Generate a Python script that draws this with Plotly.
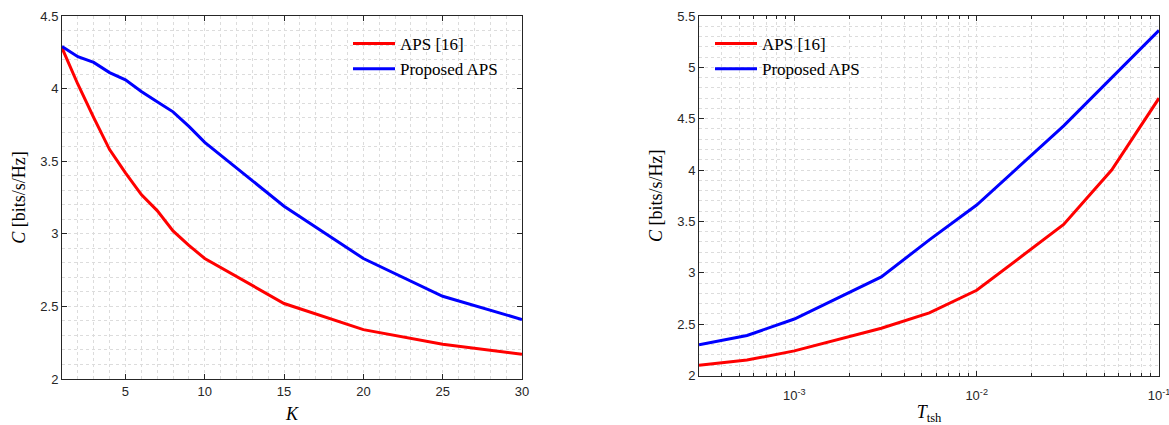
import plotly.graph_objects as go
from plotly.subplots import make_subplots
import numpy as np

# Capacity vs. number of users K
k_users = [1, 2, 3, 4, 5, 6, 7, 8, 9, 10, 15, 20, 25, 30]
cap_aps16_k = [4.28, 4.03, 3.80, 3.58, 3.42, 3.27, 3.16, 3.02, 2.92, 2.83, 2.52, 2.34, 2.24, 2.17]
cap_prop_k = [4.29, 4.22, 4.18, 4.11, 4.06, 3.98, 3.91, 3.84, 3.74, 3.63, 3.19, 2.83, 2.57, 2.41]

# Capacity vs. threshold T_tsh
t_tsh = [3e-4, 5.5e-4, 1e-3, 3e-3, 5.5e-3, 1e-2, 3e-2, 5.5e-2, 1e-1]
cap_aps16_t = [2.10, 2.15, 2.24, 2.46, 2.61, 2.83, 3.47, 4.00, 4.70]
cap_prop_t = [2.30, 2.39, 2.55, 2.96, 3.32, 3.66, 4.43, 4.90, 5.36]

series_names = ["APS [16]", "Proposed APS"]
series_colors = ["#ff0000", "#0000ff"]

W, H = 1169, 425
ML, MR, MT, MB = 62, 10, 16, 46
pw = W - ML - MR
ph = H - MT - MB

fig = make_subplots(rows=1, cols=2)

for name, col, ys in zip(series_names, series_colors, [cap_aps16_k, cap_prop_k]):
    fig.add_trace(go.Scatter(x=k_users, y=ys, mode="lines", name=name,
                             line=dict(color=col, width=3), legend="legend"),
                  row=1, col=1)
for name, col, ys in zip(series_names, series_colors, [cap_aps16_t, cap_prop_t]):
    fig.add_trace(go.Scatter(x=t_tsh, y=ys, mode="lines", name=name,
                             line=dict(color=col, width=3), legend="legend2"),
                  row=1, col=2)

axis_col = "#262626"
grid_col = "#dcdcdc"
tick_font = dict(family="Liberation Sans", size=13, color=axis_col)
title_font = dict(family="Liberation Serif", size=18, color="#000000")

common = dict(showline=True, linecolor=axis_col, linewidth=1, mirror="ticks",
              ticks="inside", ticklen=5, tickcolor=axis_col, tickfont=tick_font,
              showgrid=True, gridcolor=grid_col, griddash="dot", gridwidth=1,
              zeroline=False, automargin=False, ticklabeloverflow="allow")
minor_grid = dict(showgrid=True, gridcolor=grid_col, griddash="dot")

fig.update_xaxes(domain=[0, (522 - ML) / pw], range=[1, 30], tickvals=[5, 10, 15, 20, 25, 30],
                 minor=dict(dtick=1, **minor_grid),
                 title=dict(text="<i>K</i>", font=title_font, standoff=9),
                 **common, row=1, col=1)
fig.update_yaxes(domain=[0, 1], range=[2, 4.5], dtick=0.5,
                 minor=dict(dtick=0.1, **minor_grid),
                 title=dict(text="<i>C</i> [bits/s/Hz]", font=title_font, standoff=10),
                 **common, row=1, col=1)

fig.update_xaxes(type="log", domain=[(699 - ML) / pw, 1], range=[np.log10(3e-4), -1],
                 tickvals=[1e-3, 1e-2, 1e-1],
                 ticktext=["10<sup>-3</sup>", "10<sup>-2</sup>", "10<sup>-1</sup>"],
                 ticklabelstandoff=8,
                 minor=dict(dtick="D1", ticks="inside", ticklen=3, tickcolor=axis_col, **minor_grid),
                 title=dict(text="<i>T</i><sub>tsh</sub>", font=title_font, standoff=4),
                 **common, row=1, col=2)
fig.update_yaxes(domain=[(379 - 375.5) / ph, 1], range=[2, 5.5], dtick=0.5,
                 minor=dict(dtick=0.1, **minor_grid),
                 title=dict(text="<i>C</i> [bits/s/Hz]", font=title_font, standoff=10),
                 **common, row=1, col=2)

legend_style = dict(font=dict(family="Liberation Serif", size=17, color="#000000"),
                    bgcolor="rgba(0,0,0,0)", borderwidth=0, itemwidth=42,
                    yanchor="top", xanchor="left", tracegroupgap=0)
fig.update_layout(
    width=W, height=H,
    margin=dict(l=ML, r=MR, t=MT, b=MB, autoexpand=False),
    paper_bgcolor="white", plot_bgcolor="white",
    showlegend=True,
    legend=dict(x=(348 - ML) / pw, y=1 - (26 - MT) / ph, **legend_style),
    legend2=dict(x=(710 - ML) / pw, y=1 - (26 - MT) / ph, **legend_style),
)

fig.write_html("out.html")
